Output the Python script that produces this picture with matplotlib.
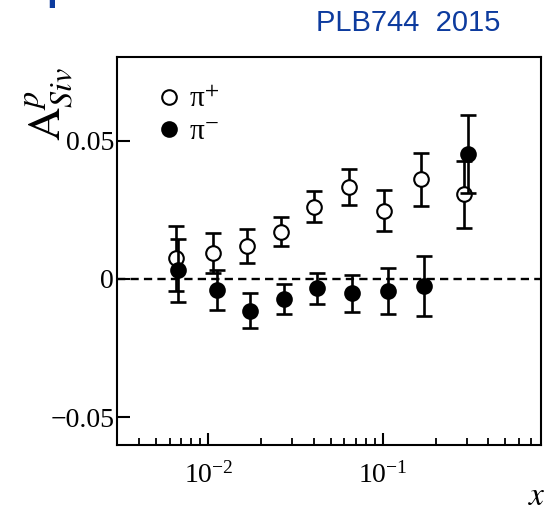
import numpy as np
import matplotlib
matplotlib.use("Agg")
import matplotlib.pyplot as plt
from matplotlib.ticker import FixedLocator, LogLocator, NullFormatter

plt.rcParams['font.family'] = ['Liberation Serif', 'DejaVu Serif']
plt.rcParams['mathtext.fontset'] = 'stix'

# pi+ (open circles)
x_pip = [0.00654, 0.01068, 0.01657, 0.02602, 0.04033, 0.06391, 0.1013, 0.1636, 0.2904]
a_pip = [0.0075, 0.0095, 0.0119, 0.0171, 0.0261, 0.0332, 0.0247, 0.0360, 0.0307]
e_pip = [0.0118, 0.0072, 0.0060, 0.0052, 0.0056, 0.0065, 0.0075, 0.0096, 0.0121]

# pi- (filled circles)
x_pim = [0.00671, 0.01117, 0.01731, 0.02715, 0.04196, 0.06652, 0.1071, 0.1715, 0.3060]
a_pim = [0.0031, -0.0040, -0.0115, -0.0072, -0.0034, -0.0052, -0.0042, -0.0024, 0.0452]
e_pim = [0.0115, 0.0073, 0.0063, 0.0054, 0.0056, 0.0066, 0.0083, 0.0108, 0.0141]

y_ticks = [-0.05, 0, 0.05]
y_labels = ['\u22120.05', '0', '0.05']

fig = plt.figure(figsize=(5.45, 5.14), dpi=100)
ax = fig.add_axes([0.2147, 0.1342, 0.778, 0.7543])

ax.axhline(0, color='black', lw=1.7, ls=(0, (3.5, 2.2)), zorder=1)

ax.errorbar(x_pip, a_pip, yerr=e_pip, fmt='none', ecolor='black', elinewidth=1.9,
            capsize=5.5, capthick=1.9, zorder=2)
ax.plot(x_pip, a_pip, 'o', ms=10.5, mfc='white', mec='black', mew=1.5,
        label='\u03c0$^{+}$', zorder=3)
ax.errorbar(x_pim, a_pim, yerr=e_pim, fmt='none', ecolor='black', elinewidth=1.9,
            capsize=5.5, capthick=1.9, zorder=4)
ax.plot(x_pim, a_pim, 'o', ms=10.5, mfc='black', mec='black', mew=1.5,
        label='\u03c0$^{-}$', zorder=5)

ax.set_xscale('log')
ax.set_xlim(0.003, 0.8)
ax.set_ylim(-0.06, 0.0801)

ax.yaxis.set_major_locator(FixedLocator(y_ticks))
ax.set_yticklabels(y_labels)
ax.xaxis.set_major_locator(LogLocator(base=10))
ax.xaxis.set_minor_locator(LogLocator(base=10, subs=np.arange(2, 10)))
ax.xaxis.set_minor_formatter(NullFormatter())

ax.tick_params(axis='both', which='major', direction='in', labelsize=20, width=1.5)
ax.tick_params(axis='y', which='major', length=9, pad=2)
ax.tick_params(axis='x', which='major', length=9, pad=12)
ax.tick_params(axis='x', which='minor', direction='in', length=5, width=1.3)
ax.tick_params(top=False, right=False, which='both')
for s in ax.spines.values():
    s.set_linewidth(1.5)

leg = ax.legend(loc='upper left', bbox_to_anchor=(0.06, 0.955), frameon=False,
                fontsize=21, handletextpad=0.2, labelspacing=0.2, handlelength=1.0,
                borderaxespad=0)

fig.text(50 / 545, 1 - 104 / 514, r'$\mathrm{A}^{p}_{Siv}$', rotation=90,
         ha='center', va='center', fontsize=33)
fig.text(537 / 545, 1 - 497 / 514, r'$x$', ha='center', va='center', fontsize=24)

blue = '#0d3b9e'
fig.text(316 / 545, 1 - 31 / 514, 'PLB744  2015', color=blue, fontsize=21,
         family='Liberation Sans', ha='left', va='baseline')
fig.text(46 / 545, 1.0, 'p', color=blue, fontsize=28, weight='bold',
         family='Liberation Sans', ha='left', va='baseline')
fig.text(102 / 545, 1.0, 'ess', color=blue, fontsize=28, weight='bold',
         family='Liberation Sans', ha='left', va='baseline')

fig.savefig('out.png', dpi=100)
